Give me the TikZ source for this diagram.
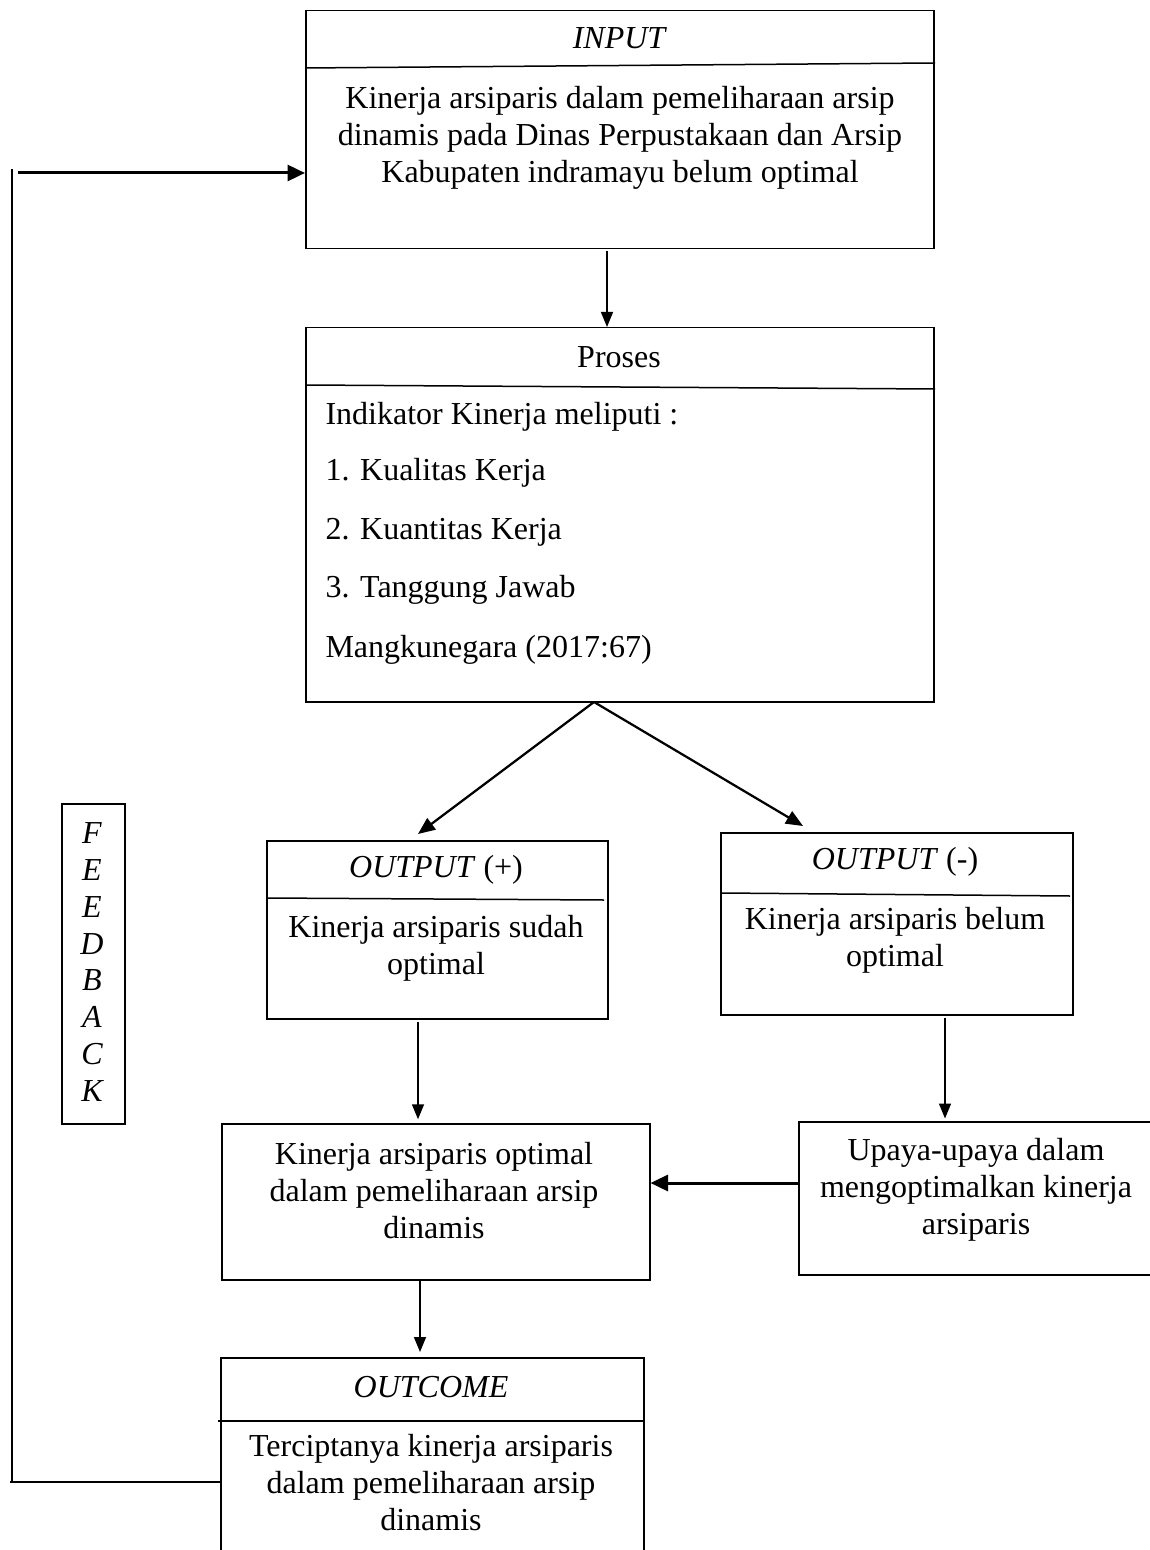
\documentclass[tikz,border=0pt]{standalone}
\usepackage{fontspec}
\setmainfont{Liberation Serif}
\usetikzlibrary{arrows.meta}
\begin{document}
\begin{tikzpicture}[x=0.4pt,y=-0.4pt,
  box/.style={draw, line width=0.6pt, inner sep=0pt, anchor=north west},
  divider/.style={line width=0.6pt},
  txt/.style={font=\fontsize{12.8}{14.8}\selectfont, align=center, inner sep=0pt},
  ltxt/.style={font=\fontsize{12.8}{14.8}\selectfont, anchor=west, inner sep=0pt},
  arr/.style={line width=0.6pt, -{Triangle[length=6pt,width=4.8pt]}},
  arrd/.style={line width=0.9pt, -{Triangle[length=6.8pt,width=5.6pt]}},
  arrthick/.style={line width=1.2pt, -{Triangle[length=7pt,width=6.4pt]}},
  fbline/.style={line width=0.45pt}
]
\clip (0,0) rectangle (1150,1550);
% boxes
\node[box, minimum width=251.2pt, minimum height=95.2pt] (input) at (305,10) {};
\node[box, minimum width=251.2pt, minimum height=149.6pt] (proses) at (305,327) {};
\node[box, minimum width=136.4pt, minimum height=71.2pt] (outp) at (266,840) {};
\node[box, minimum width=140.8pt, minimum height=72.8pt] (outm) at (720,832) {};
\node[box, minimum width=25.2pt, minimum height=128pt] (fbbox) at (61,803) {};
\node[box, minimum width=171.2pt, minimum height=62.4pt] (optimal) at (221,1123) {};
\node[box, minimum width=144.8pt, minimum height=61.2pt] (upaya) at (798,1121) {};
\node[box, minimum width=169.2pt, minimum height=81.2pt] (outcome) at (220,1357) {};
% dividers
\draw[divider] (305,68) -- (935,63);
\draw[divider] (305,385) -- (935,389);
\draw[divider] (266,898) -- (604,900);
\draw[divider] (722,893) -- (1070,896);
\draw[divider] (218,1421) -- (643,1421);
% texts
\node[txt, font=\fontsize{12.8}{14.8}\selectfont\itshape] (tin) at (619,38) {INPUT};
\node[txt] (bin) at (620,138) {Kinerja arsiparis dalam pemeliharaan arsip\\dinamis pada Dinas Perpustakaan dan Arsip\\Kabupaten indramayu belum optimal};
\node[txt] (tpr) at (619,357) {Proses};
\node[ltxt] (p1) at (325,417) {Indikator Kinerja meliputi :};
\node[ltxt] (p2) at (325,473) {1. Kualitas Kerja};
\node[ltxt] (p3) at (325,532) {2. Kuantitas Kerja};
\node[ltxt] (p4) at (325,590) {3. Tanggung Jawab};
\node[ltxt] (p5) at (325,650) {Mangkunegara (2017:67)};
\node[txt] (top) at (436,870) {\textit{OUTPUT} (+)};
\node[txt] (bop) at (436,948) {Kinerja arsiparis sudah\\optimal};
\node[txt] (tom) at (895,862) {\textit{OUTPUT} (-)};
\node[txt] (bom) at (895,940) {Kinerja arsiparis belum\\optimal};
\node[txt, font=\fontsize{12.8}{14.7}\selectfont\itshape] (fbt) at (92,962) {F\\E\\E\\D\\B\\A\\C\\K};
\node[txt] (bopt) at (434,1191) {Kinerja arsiparis optimal\\dalam pemeliharaan arsip\\dinamis};
\node[txt] (bup) at (976,1190) {Upaya-upaya dalam\\mengoptimalkan kinerja\\arsiparis};
\node[txt, font=\fontsize{12.8}{14.8}\selectfont\itshape] (toc) at (431,1387) {OUTCOME};
\node[txt] (boc) at (431,1483) {Terciptanya kinerja arsiparis\\dalam pemeliharaan arsip\\dinamis};
% connectors
\coordinate (inS) at (607,251);
\draw[arr] (inS) -- (inS |- proses.north);
\coordinate (prS) at (594,702);
\coordinate (opT) at (418,834);
\coordinate (omT) at (803,826);
\draw[arrd] (prS) -- (opT);
\draw[arrd] (prS) -- (omT);
\coordinate (opS) at (418,1022);
\draw[arr] (opS) -- ([yshift=1.5pt]opS |- optimal.north);
\coordinate (omS) at (945,1018);
\draw[arr] (omS) -- ([yshift=1pt]omS |- upaya.north);
\coordinate (upW) at (798,1183);
\draw[arrthick] (upW) -- (upW -| optimal.east);
\coordinate (okS) at (420,1280);
\draw[arr] (okS) -- ([yshift=2pt]okS |- outcome.north);
% feedback
\coordinate (fbO) at (220,1482);
\coordinate (fbC) at (12,1482);
\coordinate (fbU) at (12,169);
\draw[fbline] (fbO) -- (10,1482);
\draw[fbline] (fbC) -- (fbU);
\coordinate (fbS) at (18,173);
\draw[arrthick] (fbS) -- (fbS -| input.west);
\end{tikzpicture}
\end{document}
